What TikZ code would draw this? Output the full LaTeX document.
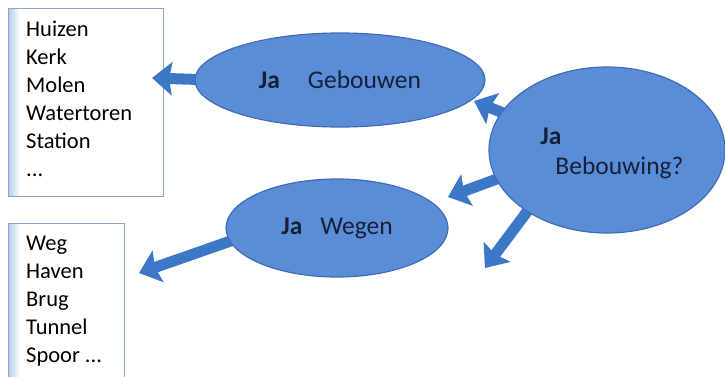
\documentclass[tikz,border=0pt]{standalone}
\usepackage{fontspec}
\setmainfont{Carlito}
\usetikzlibrary{arrows.meta,shapes.geometric}
\definecolor{ellfill}{HTML}{5B8DD6}
\definecolor{elldraw}{HTML}{3E6DB5}
\definecolor{arrowc}{HTML}{3D78C6}
\definecolor{txt}{HTML}{15203A}
\definecolor{boxdraw}{HTML}{8EA4C8}
\definecolor{boxshade}{HTML}{B5CBEE}
\tikzset{
  listbox/.style={draw=boxdraw, line width=1pt, anchor=north west, inner sep=0pt},
  listtext/.style={anchor=north west, align=left, inner sep=0pt, text=black,
    font=\fontsize{22.5}{28}\selectfont},
  bubble/.style={ellipse, fill=ellfill, draw=elldraw, line width=1.2pt, inner sep=0pt,
    text=txt, font=\fontsize{25.5}{30}\selectfont},
  blockarrow/.style={draw=arrowc, line width=11pt,
    -{Stealth[width=33pt,length=20pt,inset=3pt]}},
}
\begin{document}
\begin{tikzpicture}[x=1pt,y=-1pt]
\useasboundingbox (0,0) rectangle (725,376);
% list boxes
\shade[left color=boxshade, right color=white] (8,8) rectangle (20,196);
\node[listbox, minimum width=155pt, minimum height=188pt] (box1) at (8,8) {};
\node[listtext] (list1) at (26,21) {Huizen\\Kerk\\Molen\\Watertoren\\Station\\...};
\shade[left color=boxshade, right color=white] (8,223) rectangle (20,390);
\node[listbox, minimum width=116pt, minimum height=167pt] (box2) at (8,223) {};
\node[listtext] (list2) at (26,236) {Weg\\Haven\\Brug\\Tunnel\\Spoor ...};
% arrow end points
\coordinate (t1) at (152,78);
\coordinate (t2) at (474,101);
\coordinate (t3) at (448,197);
\coordinate (t4) at (485,268);
\coordinate (t5) at (139,273);
\coordinate (s1) at (215,80);
\coordinate (s2) at (520,120);
\coordinate (s3) at (505,176);
\coordinate (s4) at (532,205);
\coordinate (s5) at (245,236);
\draw[blockarrow] (s1) -- (t1);
\draw[blockarrow] (s2) -- (t2);
\draw[blockarrow] (s3) -- (t3);
\draw[blockarrow] (s4) -- (t4);
\draw[blockarrow] (s5) -- (t5);
% bubbles
\node[bubble, minimum width=290pt, minimum height=94pt] (geb) at (340,80)
  {\textbf{Ja}\hspace{28pt}Gebouwen};
\node[bubble, minimum width=236pt, minimum height=166pt] (beb) at (607,150) {};
\node[align=left, text=txt, font=\fontsize{25.5}{30}\selectfont, inner sep=0pt] (bebtext) at (612,153)
  {\textbf{Ja}\\\hspace{15pt}Bebouwing?};
\node[bubble, minimum width=222pt, minimum height=98pt] (weg) at (337,228)
  {\textbf{Ja}\hspace{18pt}Wegen};
\end{tikzpicture}
\end{document}
